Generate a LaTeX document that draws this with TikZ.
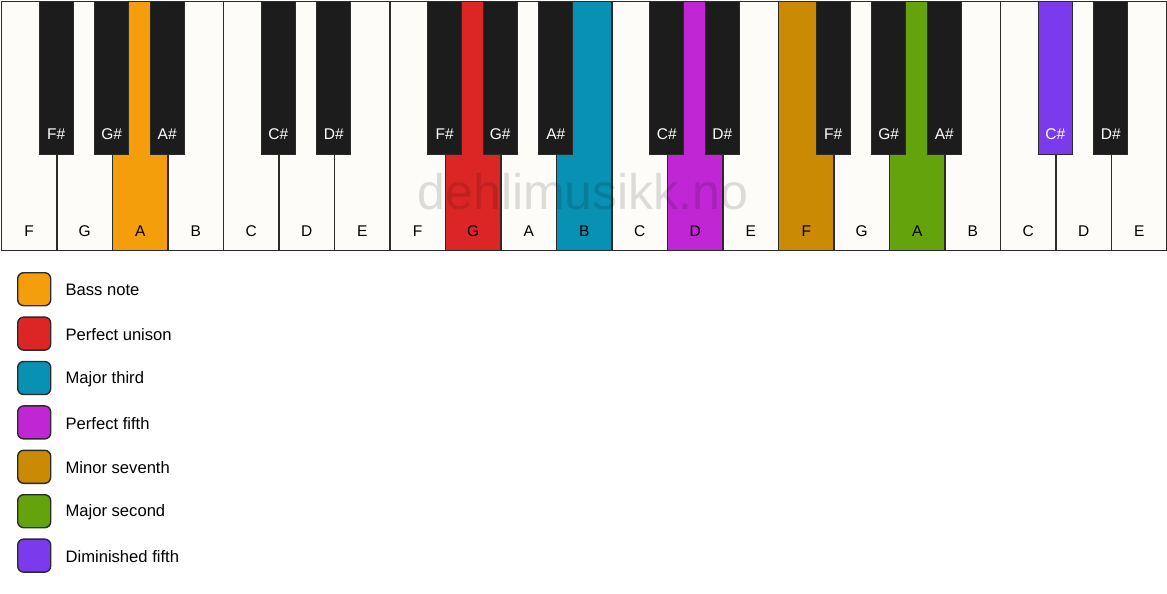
\documentclass[tikz,border=0pt]{standalone}
\usepackage{fontspec}
\setmainfont{Liberation Sans}
\definecolor{cAmber}{HTML}{F59E0B}
\definecolor{cRed}{HTML}{DC2626}
\definecolor{cCyan}{HTML}{0891B2}
\definecolor{cFuchsia}{HTML}{C026D3}
\definecolor{cGold}{HTML}{CA8A04}
\definecolor{cLime}{HTML}{65A30D}
\definecolor{cViolet}{HTML}{7C3AED}
\definecolor{keyblack}{HTML}{1C1C1C}
\definecolor{keywhite}{HTML}{FDFCF9}
\definecolor{keyline}{HTML}{2B2B2B}
\tikzset{
  whitekey/.style={draw=keyline, line width=1.4pt, fill=keywhite, anchor=north west, inner sep=0pt, minimum width=55.571pt, minimum height=249pt},
  blackkey/.style={draw=keyline, line width=0.8pt, fill=keyblack, anchor=north, inner sep=0pt, minimum width=34pt, minimum height=153pt},
  whitelabel/.style={font=\fontsize{15.5}{18}\selectfont, text=black, inner sep=0pt},
  blacklabel/.style={font=\fontsize{15.5}{18}\selectfont, text=white, inner sep=0pt},
  legendbox/.style={draw=keyline, line width=1.4pt, rounded corners=6pt, anchor=north west, inner sep=0pt, minimum width=33pt, minimum height=33pt},
  legendtext/.style={font=\fontsize{16.6}{19}\selectfont, anchor=west, inner sep=0pt},
  watermark/.style={font=\fontsize{50}{58}\selectfont, text=black, text opacity=0.13, inner sep=0pt}
}
\begin{document}
\begin{tikzpicture}[x=1pt,y=-1pt]
\useasboundingbox (0,0) rectangle (1167,594);
\fill[white] (0,0) rectangle (1167,594);
% white keys
\foreach \i/\n/\c in {0/F/keywhite,1/G/keywhite,2/A/cAmber,3/B/keywhite,4/C/keywhite,5/D/keywhite,6/E/keywhite,
  7/F/keywhite,8/G/cRed,9/A/keywhite,10/B/cCyan,11/C/keywhite,12/D/cFuchsia,13/E/keywhite,
  14/F/cGold,15/G/keywhite,16/A/cLime,17/B/keywhite,18/C/keywhite,19/D/keywhite,20/E/keywhite}{
  \node[whitekey, fill=\c] (w\i) at ({0.7+\i*55.571*(1165.6/1167)}, 0.7) {};
  \node[whitelabel] (wl\i) at ([yshift=19.5pt]w\i.south) {\n};
}
% black keys
\foreach \b/\n/\c in {1/F\#/keyblack,2/G\#/keyblack,3/A\#/keyblack,5/C\#/keyblack,6/D\#/keyblack,
  8/F\#/keyblack,9/G\#/keyblack,10/A\#/keyblack,12/C\#/keyblack,13/D\#/keyblack,
  15/F\#/keyblack,16/G\#/keyblack,17/A\#/keyblack,19/C\#/cViolet,20/D\#/keyblack}{
  \node[blackkey, fill=\c] (b\b) at ({0.7+\b*55.571*(1165.6/1167)}, 0.7) {};
  \node[blacklabel] (bl\b) at ([yshift=20.5pt]b\b.south) {\n};
}
% watermark
\node[watermark] (wm) at (583,192) {dehlimusikk.no};
% legend
\foreach \k/\c/\t in {0/cAmber/Bass note,1/cRed/Perfect unison,2/cCyan/Major third,3/cFuchsia/Perfect fifth,
  4/cGold/Minor seventh,5/cLime/Major second,6/cViolet/Diminished fifth}{
  \node[legendbox, fill=\c] (lg\k) at (17, {272+\k*44.4}) {};
  \node[legendtext] (lt\k) at ([xshift=14pt,yshift=-0.8pt]lg\k.east) {\t};
}
\end{tikzpicture}
\end{document}
